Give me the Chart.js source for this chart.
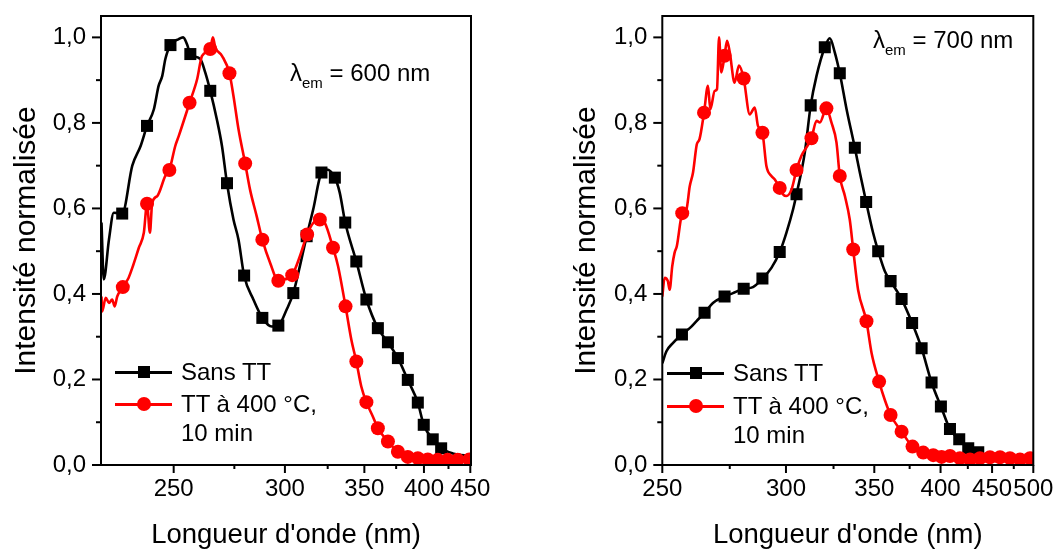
<!DOCTYPE html>
<html>
<head>
<meta charset="utf-8">
<script src="https://cdn.jsdelivr.net/npm/chart.js@4.4.0/dist/chart.umd.min.js"></script>
<style>
  body { margin: 0; background: #fff; }
  #wrap { position: relative; width: 1056px; height: 550px; font-family: "Liberation Sans", Arial, sans-serif; color: #000; }
  canvas { position: absolute; top: 0; }
  .txt { position: absolute; font-size: 24px; line-height: 28px; white-space: nowrap; }
  .txt sub { font-size: 15px; vertical-align: -7px; line-height: 0; }
  .swatch { position: absolute; height: 3px; }
  .sq { position: absolute; width: 12px; height: 12px; background: #000; }
  .dot { position: absolute; width: 14px; height: 14px; border-radius: 50%; background: #ff0000; }
</style>
</head>
<body>
<div id="wrap">
  <canvas id="left" width="520" height="550" style="left:0"></canvas>
  <canvas id="right" width="496" height="550" style="left:560px"></canvas>
</div>
<script>
// wavelength (nm) -> energy (eV); the x axis is linear in energy, labelled in nm
const EV = 1239.84;

const xTicksNm = [250, 300, 350, 400, 450, 500];
const xMinorNm = [275, 325, 375, 425, 475];
const yTicks = [0, 0.2, 0.4, 0.6, 0.8, 1.0];
const yMinor = [0.1, 0.3, 0.5, 0.7, 0.9];

const seriesNames = ['Sans TT', 'TT à 400 °C, 10 min'];

// lambda_em = 600 nm, sans TT
const blackLeftNm = [225.6, 226.3, 227.9, 229.4, 232.1, 235.4, 238.2, 240.4, 242.8, 244.5, 245.8, 246.9, 248.8, 251.9, 253.6, 255.1, 256.4, 260.4, 262.4, 264.5, 267.3, 269.5, 271.7, 274.6, 276.9, 279.5, 283.9, 288.3, 293.1, 296.5, 300.9, 304.6, 308.3, 312.2, 316.1, 321.1, 324.3, 329.6, 332.8, 336.5, 344.2, 351.5, 360.2, 368.2, 376.5, 385.1, 394.2, 399.8, 408.6, 417.2, 429.6, 450];
const blackLeftVal = [0.567, 0.434, 0.527, 0.59, 0.588, 0.70, 0.746, 0.793, 0.832, 0.887, 0.91, 0.949, 0.982, 0.996, 1.0, 0.984, 0.961, 0.949, 0.918, 0.875, 0.808, 0.746, 0.659, 0.574, 0.527, 0.443, 0.387, 0.344, 0.324, 0.326, 0.363, 0.402, 0.465, 0.535, 0.598, 0.684, 0.691, 0.672, 0.637, 0.567, 0.476, 0.387, 0.320, 0.287, 0.250, 0.199, 0.146, 0.094, 0.060, 0.039, 0.027, 0.021];
const blackLeftMark = [0, 0, 0, 0, 1, 0, 0, 1, 0, 0, 0, 0, 1, 0, 0, 0, 1, 0, 0, 1, 0, 0, 1, 0, 0, 1, 0, 1, 0, 1, 0, 1, 0, 1, 0, 1, 0, 1, 0, 1, 1, 1, 1, 1, 1, 1, 1, 1, 1, 1, 0, 0];

// lambda_em = 600 nm, TT 400 °C
const redLeftNm = [225.6, 225.8, 226.9, 227.9, 228.9, 229.7, 230.5, 232.3, 234.2, 235.4, 237.6, 239.3, 240.4, 241.4, 242.2, 244.0, 246.9, 248.4, 250.6, 251.9, 256.1, 259.1, 261.1, 264.5, 265.6, 266.6, 269.5, 272.8, 274.6, 276.9, 280.0, 282.3, 285.5, 288.3, 292.2, 296.5, 300.0, 304.0, 308.3, 312.5, 316.1, 320.1, 323.2, 328.4, 331.7, 336.7, 340.7, 344.2, 347.8, 351.5, 356.4, 360.2, 368.2, 376.5, 385.1, 394.2, 403.7, 413.7, 424.1, 435.2, 448.8, 450];
const redLeftVal = [0.394, 0.359, 0.391, 0.379, 0.387, 0.371, 0.394, 0.416, 0.438, 0.461, 0.508, 0.543, 0.611, 0.543, 0.613, 0.629, 0.676, 0.690, 0.746, 0.769, 0.847, 0.902, 0.957, 0.973, 1.0, 0.977, 0.957, 0.916, 0.863, 0.785, 0.705, 0.644, 0.582, 0.527, 0.473, 0.431, 0.434, 0.444, 0.488, 0.539, 0.566, 0.574, 0.566, 0.508, 0.465, 0.371, 0.293, 0.242, 0.183, 0.147, 0.113, 0.086, 0.055, 0.031, 0.019, 0.016, 0.013, 0.012, 0.012, 0.012, 0.013, 0.013];
const redLeftMark = [0, 0, 0, 0, 0, 0, 0, 1, 0, 0, 0, 0, 1, 0, 0, 0, 0, 1, 0, 0, 1, 0, 0, 1, 0, 0, 0, 1, 0, 0, 1, 0, 0, 1, 0, 1, 0, 1, 0, 1, 0, 1, 0, 1, 0, 1, 0, 1, 0, 1, 0, 1, 1, 1, 1, 1, 1, 1, 1, 1, 1, 0];

// lambda_em = 700 nm, sans TT
const blackRightNm = [250.0, 251.4, 253.6, 256.8, 259.6, 262.0, 265.1, 268.3, 272.9, 276.3, 280.8, 284.8, 289.0, 293.1, 297.0, 300.2, 303.5, 305.2, 309.4, 312.5, 315.6, 320.1, 322.9, 325.7, 328.6, 332.6, 337.6, 340.7, 344.7, 349.2, 352.6, 357.1, 361.1, 369.0, 376.9, 384.3, 392.4, 400.3, 408.3, 416.8, 425.4, 435.4, 444.2, 470.5, 500];
const blackRightVal = [0.238, 0.266, 0.285, 0.305, 0.320, 0.336, 0.356, 0.379, 0.394, 0.402, 0.412, 0.416, 0.436, 0.461, 0.498, 0.543, 0.598, 0.633, 0.730, 0.841, 0.910, 0.977, 0.998, 0.965, 0.916, 0.832, 0.742, 0.684, 0.615, 0.543, 0.500, 0.453, 0.430, 0.388, 0.332, 0.273, 0.193, 0.137, 0.084, 0.060, 0.039, 0.030, 0.023, 0.020, 0.019];
const blackRightMark = [0, 0, 0, 1, 0, 0, 1, 0, 1, 0, 1, 0, 1, 0, 1, 0, 0, 1, 0, 1, 0, 1, 0, 0, 1, 0, 1, 0, 1, 0, 1, 0, 1, 1, 1, 1, 1, 1, 1, 1, 1, 1, 0, 0, 0];

// lambda_em = 700 nm, TT 400 °C
const redRightNm = [250.0, 250.8, 251.9, 252.5, 253.4, 254.2, 255.0, 256.9, 258.4, 259.6, 260.8, 262.2, 263.2, 264.9, 266.4, 267.3, 269.0, 269.9, 270.7, 271.6, 272.9, 273.9, 275.0, 277.0, 278.8, 280.8, 283.4, 285.6, 287.0, 289.0, 290.8, 293.1, 294.6, 297.0, 298.6, 300.2, 302.7, 305.2, 307.7, 312.9, 315.6, 317.4, 321.0, 323.8, 326.7, 328.6, 331.6, 334.5, 336.6, 339.6, 344.9, 348.2, 353.2, 357.1, 361.1, 369.0, 377.2, 385.6, 393.8, 400.9, 408.3, 417.4, 427.1, 437.1, 447.7, 458.8, 470.4, 482.7, 495.6, 500];
const redRightVal = [0.394, 0.438, 0.430, 0.410, 0.465, 0.496, 0.512, 0.589, 0.598, 0.652, 0.684, 0.750, 0.762, 0.824, 0.887, 0.832, 0.875, 0.879, 1.0, 0.918, 0.957, 0.992, 0.965, 0.894, 0.934, 0.904, 0.820, 0.836, 0.793, 0.777, 0.699, 0.676, 0.668, 0.648, 0.633, 0.629, 0.644, 0.690, 0.723, 0.764, 0.805, 0.801, 0.834, 0.801, 0.754, 0.676, 0.629, 0.574, 0.504, 0.410, 0.336, 0.262, 0.195, 0.152, 0.117, 0.078, 0.043, 0.029, 0.023, 0.019, 0.021, 0.016, 0.013, 0.016, 0.018, 0.018, 0.016, 0.013, 0.016, 0.015];
const redRightMark = [0, 0, 0, 0, 0, 0, 0, 1, 0, 0, 0, 0, 0, 1, 0, 0, 0, 0, 0, 0, 1, 0, 0, 0, 0, 1, 0, 0, 0, 1, 0, 0, 0, 1, 0, 0, 0, 1, 0, 1, 0, 0, 1, 0, 0, 1, 0, 0, 1, 0, 1, 0, 1, 0, 1, 1, 1, 1, 1, 1, 1, 1, 1, 1, 1, 1, 1, 1, 1, 0];

const fontFamily = "'Liberation Sans', Arial, sans-serif";

function toPoints(nm, val) {
    return nm.map((w, i) => ({ x: EV / w, y: val[i] }));
}

function lineSet(label, nm, val, mark, color, style, radius, order) {
    return {
        label: label,
        data: toPoints(nm, val),
        borderColor: color,
        backgroundColor: color,
        borderWidth: 2.6,
        cubicInterpolationMode: 'monotone',
        pointStyle: style,
        pointRadius: mark.map(m => m ? radius : 0),
        pointBorderWidth: 0,
        pointHoverRadius: 0,
        order: order
    };
}

// frame + outward major/minor ticks, placed through the chart scales
const frameTicks = {
    id: 'frameTicks',
    afterDraw(chart) {
        const { ctx, chartArea: a, scales: { x, y } } = chart;
        ctx.save();
        ctx.strokeStyle = '#000';
        ctx.lineWidth = 2;
        ctx.strokeRect(a.left, a.top, a.right - a.left, a.bottom - a.top);
        const tick = (x1, y1, x2, y2) => {
            ctx.beginPath(); ctx.moveTo(x1, y1); ctx.lineTo(x2, y2); ctx.stroke();
        };
        const inX = px => px >= a.left - 0.5 && px <= a.right + 0.5;
        xTicksNm.forEach(nm => {
            const px = x.getPixelForValue(EV / nm);
            if (inX(px)) tick(px, a.bottom, px, a.bottom + 8);
        });
        xMinorNm.forEach(nm => {
            const px = x.getPixelForValue(EV / nm);
            if (inX(px)) tick(px, a.bottom, px, a.bottom + 4);
        });
        yTicks.forEach(v => {
            const py = y.getPixelForValue(v);
            tick(a.left - 9, py, a.left, py);
        });
        yMinor.forEach(v => {
            const py = y.getPixelForValue(v);
            tick(a.left - 5, py, a.left, py);
        });
        ctx.restore();
    }
};

function makeChart(id, datasets, xMinNm, xMaxNm, padRight, yWidth) {
    return new Chart(document.getElementById(id), {
        type: 'line',
        data: { datasets: datasets },
        options: {
            responsive: false,
            animation: false,
            layout: { padding: { left: 0, right: padRight, top: 16, bottom: 0 } },
            plugins: { legend: { display: false }, tooltip: { enabled: false } },
            scales: {
                x: {
                    type: 'linear',
                    reverse: true,
                    min: EV / xMaxNm,
                    max: EV / xMinNm,
                    grid: { display: false, drawTicks: false },
                    border: { display: false },
                    afterBuildTicks: scale => {
                        scale.ticks = xTicksNm
                            .filter(nm => nm >= xMinNm && nm <= xMaxNm)
                            .map(nm => ({ value: EV / nm }));
                    },
                    afterFit: scale => {
                        scale.height = 85;
                        scale.paddingLeft = 0;
                        scale.paddingRight = 0;
                    },
                    ticks: {
                        autoSkip: false,
                        maxRotation: 0,
                        padding: 10,
                        color: '#000',
                        font: { family: fontFamily, size: 24 },
                        callback: v => Math.round(EV / v)
                    },
                    title: {
                        display: true,
                        text: "Longueur d'onde (nm)",
                        color: '#000',
                        font: { family: fontFamily, size: 27.5, lineHeight: 1 },
                        padding: { top: 0, bottom: 1 }
                    }
                },
                y: {
                    min: 0,
                    max: 1.05,
                    grid: { display: false, drawTicks: false },
                    border: { display: false },
                    afterBuildTicks: scale => {
                        scale.ticks = yTicks.map(v => ({ value: v }));
                    },
                    afterFit: scale => {
                        scale.width = yWidth;
                        scale.paddingTop = 0;
                        scale.paddingBottom = 0;
                    },
                    ticks: {
                        padding: 15,
                        color: '#000',
                        font: { family: fontFamily, size: 24 },
                        callback: v => v.toFixed(1).replace('.', ',')
                    },
                    title: {
                        display: true,
                        text: 'Intensité normalisée',
                        color: '#000',
                        font: { family: fontFamily, size: 30, lineHeight: 1 },
                        padding: { top: 12, bottom: 0 }
                    }
                }
            }
        },
        plugins: [frameTicks]
    });
}

makeChart('left', [
    lineSet(seriesNames[0], blackLeftNm, blackLeftVal, blackLeftMark, '#000000', 'rect', 8.5, 2),
    lineSet(seriesNames[1], redLeftNm, redLeftVal, redLeftMark, '#ff0000', 'circle', 7, 1)
], 225.45, 450.85, 49, 101);

makeChart('right', [
    lineSet(seriesNames[0], blackRightNm, blackRightVal, blackRightMark, '#000000', 'rect', 8.5, 2),
    lineSet(seriesNames[1], redRightNm, redRightVal, redRightMark, '#ff0000', 'circle', 7, 1)
], 250, 500, 22.7, 102.3);

// legends and annotations as html text
const wrap = document.getElementById('wrap');
function add(cls, css, html) {
    const el = document.createElement('div');
    el.className = cls;
    el.style.cssText = css;
    if (html) el.innerHTML = html;
    wrap.appendChild(el);
}
function legend(x0, yBlack, yRed) {
    add('swatch', `left:${x0}px;top:${yBlack - 1.5}px;width:57px;background:#000`);
    add('sq', `left:${x0 + 22.5}px;top:${yBlack - 6}px`);
    add('txt', `left:${x0 + 66}px;top:${yBlack - 14}px`, 'Sans TT');
    add('swatch', `left:${x0}px;top:${yRed - 1.5}px;width:57px;background:#ff0000`);
    add('dot', `left:${x0 + 21.5}px;top:${yRed - 7}px`);
    add('txt', `left:${x0 + 66}px;top:${yRed - 14}px`, 'TT à 400 °C,');
    add('txt', `left:${x0 + 66}px;top:${yRed + 15}px`, '10 min');
}
legend(115, 372, 404);
legend(667, 373, 406);
add('txt', 'left:290px;top:59px', 'λ<sub>em</sub> = 600 nm');
add('txt', 'left:873px;top:26px', 'λ<sub>em</sub> = 700 nm');
</script>
</body>
</html>
